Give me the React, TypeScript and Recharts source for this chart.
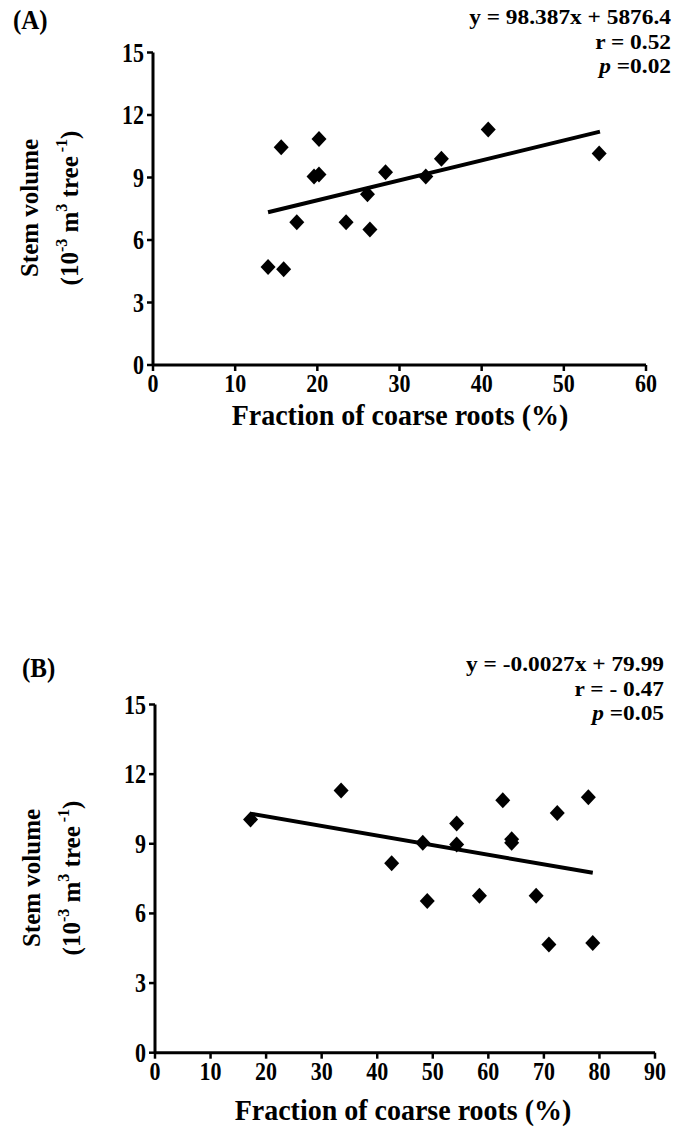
import React from 'react';
import { ScatterChart, Scatter, XAxis, YAxis } from 'recharts';

// ---- Panel A data ----
const aFraction = [15.6, 20.2, 40.8, 54.3, 35.1, 28.3, 19.6, 20.2, 33.2, 26.1, 17.5, 23.5, 26.4, 14.0, 15.9];
const aVolume = [10.45, 10.85, 11.3, 10.15, 9.9, 9.25, 9.05, 9.15, 9.05, 8.2, 6.85, 6.85, 6.5, 4.7, 4.6];
const aTrendX = [14.0, 54.4];
const aTrendY = [7.33, 11.2];
const aXTicks = [0, 10, 20, 30, 40, 50, 60];
const aYTicks = [0, 3, 6, 9, 12, 15];
const aStats = ['y = 98.387x + 5876.4', 'r = 0.52', '=0.02'];

// ---- Panel B data ----
const bFraction = [17.2, 33.5, 62.6, 78.0, 72.4, 54.3, 48.2, 54.3, 64.2, 64.2, 42.6, 49.0, 58.4, 68.6, 70.9, 78.8];
const bVolume = [10.05, 11.3, 10.87, 11.0, 10.33, 9.87, 9.04, 8.97, 9.19, 9.04, 8.16, 6.54, 6.76, 6.76, 4.66, 4.73];
const bTrendX = [17.1, 78.8];
const bTrendY = [10.3, 7.75];
const bXTicks = [0, 10, 20, 30, 40, 50, 60, 70, 80, 90];
const bYTicks = [0, 3, 6, 9, 12, 15];
const bStats = ['y = -0.0027x + 79.99', 'r = - 0.47', '=0.05'];

const xTitle = 'Fraction of coarse roots (%)';

const FONT = '"Liberation Serif", "Times New Roman", serif';
const TICK_SIZE = 22;
const STRETCH = 1.2;

const Diamond = (props: any) => {
  const { cx, cy } = props;
  if (cx == null || cy == null) return <g />;
  return <path d={`M${cx},${cy - 8} L${cx + 7.5},${cy} L${cx},${cy + 8} L${cx - 7.5},${cy} Z`} fill="#000" />;
};
const NoShape = () => <g />;

// horizontal text, scaled around its baseline point
const SText = (props: any) => {
  const { x, y, anchor, size, children, stretch, widen } = props;
  const s = stretch ?? STRETCH;
  const w = widen ?? 1;
  return (
    <text
      transform={`translate(${x} ${y}) scale(${w} ${s})`}
      x={0}
      y={0}
      textAnchor={anchor || 'start'}
      fontFamily={FONT}
      fontWeight="bold"
      fontSize={size}
      fill="#000"
    >
      {children}
    </text>
  );
};

const XTick = (props: any) => {
  const { x, y, payload } = props;
  return (
    <SText x={x} y={y + 17} anchor="middle" size={TICK_SIZE} stretch={1.12}>
      {payload.value}
    </SText>
  );
};
const YTick = (props: any) => {
  const { x, y, payload } = props;
  return (
    <SText x={x} y={y + 9} anchor="end" size={TICK_SIZE}>
      {payload.value}
    </SText>
  );
};

type PanelProps = {
  top: number;
  height: number;
  margin: { top: number; right: number; bottom: number; left: number };
  xs: number[];
  ys: number[];
  tx: number[];
  ty: number[];
  xTicks: number[];
  yTicks: number[];
  stats: string[];
  tag: string;
  tagX: number;
  tagY: number;
  statsX: number;
  statsY: number;
  statGap: number;
  yTitleX: number;
  yTitleY: number;
  xTitleY: number;
  xTitleX: number;
};

const Panel = (p: PanelProps) => {
  const pts = p.xs.map((x, i) => ({ x, y: p.ys[i] }));
  const trend = p.tx.map((x, i) => ({ x, y: p.ty[i] }));
  const statSize = 20.5;
  const statWiden = 1.14;
  return (
    <div style={{ position: 'absolute', left: 0, top: p.top, width: 678, height: p.height }}>
      <ScatterChart width={678} height={p.height} margin={p.margin}>
        <XAxis
          type="number"
          dataKey="x"
          domain={[p.xTicks[0], p.xTicks[p.xTicks.length - 1]]}
          ticks={p.xTicks}
          interval={0}
          height={30}
          tick={<XTick />}
          tickSize={6}
          tickMargin={4}
          axisLine={{ stroke: '#000', strokeWidth: 3 }}
          tickLine={{ stroke: '#000', strokeWidth: 2.5 }}
          allowDataOverflow
        />
        <YAxis
          type="number"
          dataKey="y"
          domain={[p.yTicks[0], p.yTicks[p.yTicks.length - 1]]}
          ticks={p.yTicks}
          interval={0}
          width={50}
          tick={<YTick />}
          tickSize={6}
          tickMargin={3}
          axisLine={{ stroke: '#000', strokeWidth: 3 }}
          tickLine={{ stroke: '#000', strokeWidth: 2.5 }}
          allowDataOverflow
        />
        <Scatter data={pts} shape={Diamond} isAnimationActive={false} />
        <Scatter
          data={trend}
          shape={NoShape}
          line={{ stroke: '#000', strokeWidth: 4 }}
          lineType="joint"
          isAnimationActive={false}
        />
        <SText x={p.tagX} y={p.tagY} size={25} stretch={1.1}>
          {p.tag}
        </SText>
        <SText x={p.statsX} y={p.statsY} anchor="end" size={statSize} stretch={1} widen={statWiden}>
          {p.stats[0]}
        </SText>
        <SText x={p.statsX} y={p.statsY + p.statGap} anchor="end" size={statSize} stretch={1} widen={statWiden}>
          {p.stats[1]}
        </SText>
        <SText x={p.statsX} y={p.statsY + 2 * p.statGap} anchor="end" size={statSize} stretch={1} widen={statWiden}>
          <tspan fontStyle="italic">p</tspan>
          <tspan> {p.stats[2]}</tspan>
        </SText>
        <SText x={p.xTitleX} y={p.xTitleY} anchor="middle" size={28} stretch={1.05}>
          {xTitle}
        </SText>
        <text
          transform={`rotate(-90, ${p.yTitleX}, ${p.yTitleY})`}
          x={p.yTitleX}
          y={p.yTitleY}
          textAnchor="middle"
          fontFamily={FONT}
          fontWeight="bold"
          fontSize={25}
          fill="#000"
        >
          Stem volume
        </text>
        <text
          transform={`rotate(-90, ${p.yTitleX + 40}, ${p.yTitleY})`}
          x={p.yTitleX + 40}
          y={p.yTitleY}
          textAnchor="middle"
          fontFamily={FONT}
          fontWeight="bold"
          fontSize={25}
          fill="#000"
        >
          <tspan>(10</tspan>
          <tspan fontSize={16} dy={-11}>-3</tspan>
          <tspan dy={11}> m</tspan>
          <tspan fontSize={16} dy={-11}>3</tspan>
          <tspan dy={11}> tree</tspan>
          <tspan fontSize={16} dy={-11}> -1</tspan>
          <tspan dy={11}>)</tspan>
        </text>
      </ScatterChart>
    </div>
  );
};

export default function App() {
  return (
    <div style={{ position: 'absolute', left: 0, top: 0, width: 678, height: 1136, background: '#fff' }}>
      <Panel
        top={0}
        height={440}
        margin={{ top: 52.5, right: 32, bottom: 440 - 365 - 30, left: 103 }}
        xs={aFraction}
        ys={aVolume}
        tx={aTrendX}
        ty={aTrendY}
        xTicks={aXTicks}
        yTicks={aYTicks}
        stats={aStats}
        tag="(A)"
        tagX={13}
        tagY={29}
        statsX={671}
        statsY={24}
        statGap={24.5}
        yTitleX={38}
        yTitleY={208}
        xTitleX={400}
        xTitleY={425}
      />
      <Panel
        top={600}
        height={536}
        margin={{ top: 104.5, right: 23, bottom: 536 - 452.7 - 30, left: 105 }}
        xs={bFraction}
        ys={bVolume}
        tx={bTrendX}
        ty={bTrendY}
        xTicks={bXTicks}
        yTicks={bYTicks}
        stats={bStats}
        tag="(B)"
        tagX={22}
        tagY={77}
        statsX={664}
        statsY={71}
        statGap={24.5}
        yTitleX={40}
        yTitleY={278}
        xTitleX={403}
        xTitleY={520}
      />
    </div>
  );
}
